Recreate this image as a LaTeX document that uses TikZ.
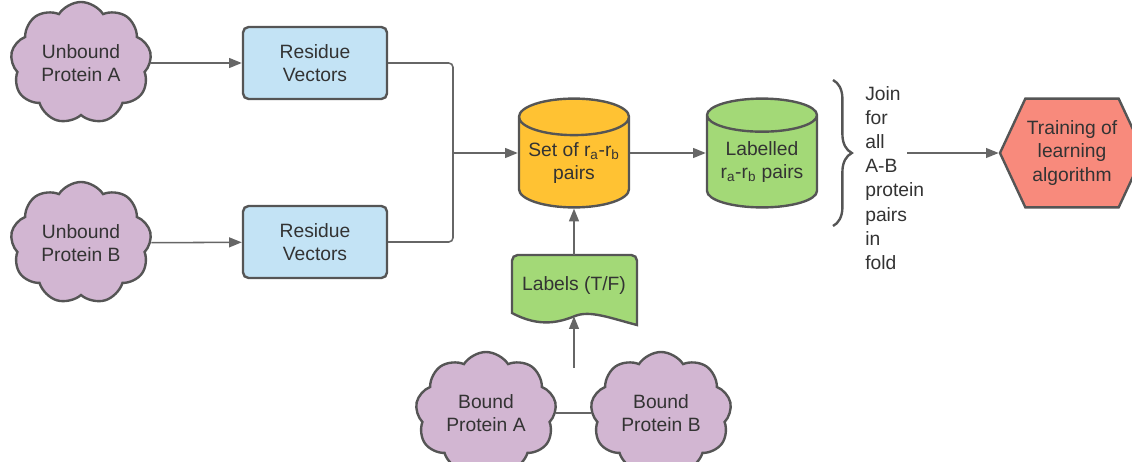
\documentclass[tikz,border=0pt]{standalone}
\usepackage{fontspec}
\setmainfont{Liberation Sans}
\usetikzlibrary{shapes.symbols,shapes.geometric,arrows.meta,decorations.pathreplacing}

\definecolor{cloudfill}{HTML}{D2B6D2}
\definecolor{boxfill}{HTML}{C3E3F5}
\definecolor{setfill}{HTML}{FFC233}
\definecolor{greenfill}{HTML}{A3D977}
\definecolor{trainfill}{HTML}{F88A7C}
\definecolor{edgegray}{HTML}{555555}
\definecolor{linegray}{HTML}{666666}
\definecolor{textgray}{HTML}{333333}

\tikzset{
  protein/.style={cloud, cloud puffs=9, cloud puff arc=115, cloud ignores aspect, draw=edgegray, line width=1.7pt,
    fill=cloudfill, minimum width=3.52cm, minimum height=3.05cm, align=center, inner sep=0pt},
  resbox/.style={rectangle, rounded corners=4pt, draw=edgegray, line width=1.7pt, fill=boxfill,
    minimum width=3.6cm, minimum height=1.8cm, align=center},
  store/.style={cylinder, shape border rotate=90, aspect=0.4, draw=edgegray, line width=1.7pt,
    minimum width=2.75cm, minimum height=2.72cm, align=center, inner sep=0pt, anchor=shape center},
  edge/.style={draw=linegray, line width=1.1pt},
  arrow/.style={edge, -{Triangle[length=9pt,width=7pt]}}
}

\begin{document}
\begin{tikzpicture}[x=0.025cm, y=-0.025cm, font=\fontsize{13.7}{16.5}\selectfont, text=textgray]
    \useasboundingbox (0,0) rectangle (1132,461);

    % Draw nodes
    \node[protein] (unboundA) at (81, 63) {Unbound\\Protein A};
    \node[protein] (unboundB) at (81, 243) {Unbound\\Protein B};
    \node[resbox] (resA) at (315, 63) {Residue\\Vectors};
    \node[resbox] (resB) at (315, 242) {Residue\\Vectors};
    \node[store, fill=setfill] (setpairs) at (574, 153) {Set of r\textsubscript{a}-r\textsubscript{b}\\pairs};
    \node[store, fill=greenfill] (labelled) at (762, 153) {Labelled\\r\textsubscript{a}-r\textsubscript{b} pairs};

    % labels document
    \filldraw[draw=edgegray, fill=greenfill, line width=1.7pt, rounded corners=4pt]
      (512,313) -- (512,255) -- (637,255) [sharp corners] -- (637,325)
      .. controls (610,318) and (590,310) .. (575,316)
      .. controls (560,322) and (540,328) .. (512,313) -- cycle;
    \node[rectangle, minimum width=3.125cm, minimum height=1.525cm] (labels) at (574, 285.5) {Labels (T/F)};

    \node[protein] (boundA) at (486, 413) {Bound\\Protein A};
    \node[protein] (boundB) at (661, 413) {Bound\\Protein B};

    \node[signal, signal to=west and east, signal pointer angle=130, draw=edgegray, line width=1.7pt,
      fill=trainfill, minimum width=3.6cm, minimum height=2.72cm, align=center, inner sep=0pt] (train) at (1072, 153)
      {Training of\\learning\\algorithm};

    \node[anchor=west, align=left, inner sep=0pt, font=\fontsize{13.7}{17.2}\selectfont] (join) at (865, 178)
      {Join\\for\\all\\A-B\\protein\\pairs\\in\\fold};

    \coordinate (merge) at (453, 153);
    \coordinate (boundmid) at (574, 368);
    \coordinate (joinout) at (907, 153);
    \coordinate (bracetop) at (833, 80);
    \coordinate (bracebot) at (833, 226);

    % Draw edges
    \draw[arrow] (unboundA) -- (resA);
    \draw[arrow] (unboundB) -- (resB);
    \draw[edge, rounded corners=3pt] (resA.east) -| (merge);
    \draw[edge, rounded corners=3pt] (resB.east) -| (merge);
    \draw[arrow] (merge) -- (setpairs.west |- merge);
    \draw[arrow] (setpairs.east |- merge) -- (labelled.west |- merge);
    \draw[arrow] (labels.north) -- (setpairs.south);
    \draw[edge] (boundA) -- (boundB);
    \draw[arrow] (boundmid) -- (labels.south);
    \draw[edgegray, line width=1.7pt, decorate, decoration={brace, amplitude=0.47cm}] (bracetop) -- (bracebot);
    \draw[arrow] (joinout) -- (train.west);
\end{tikzpicture}
\end{document}
